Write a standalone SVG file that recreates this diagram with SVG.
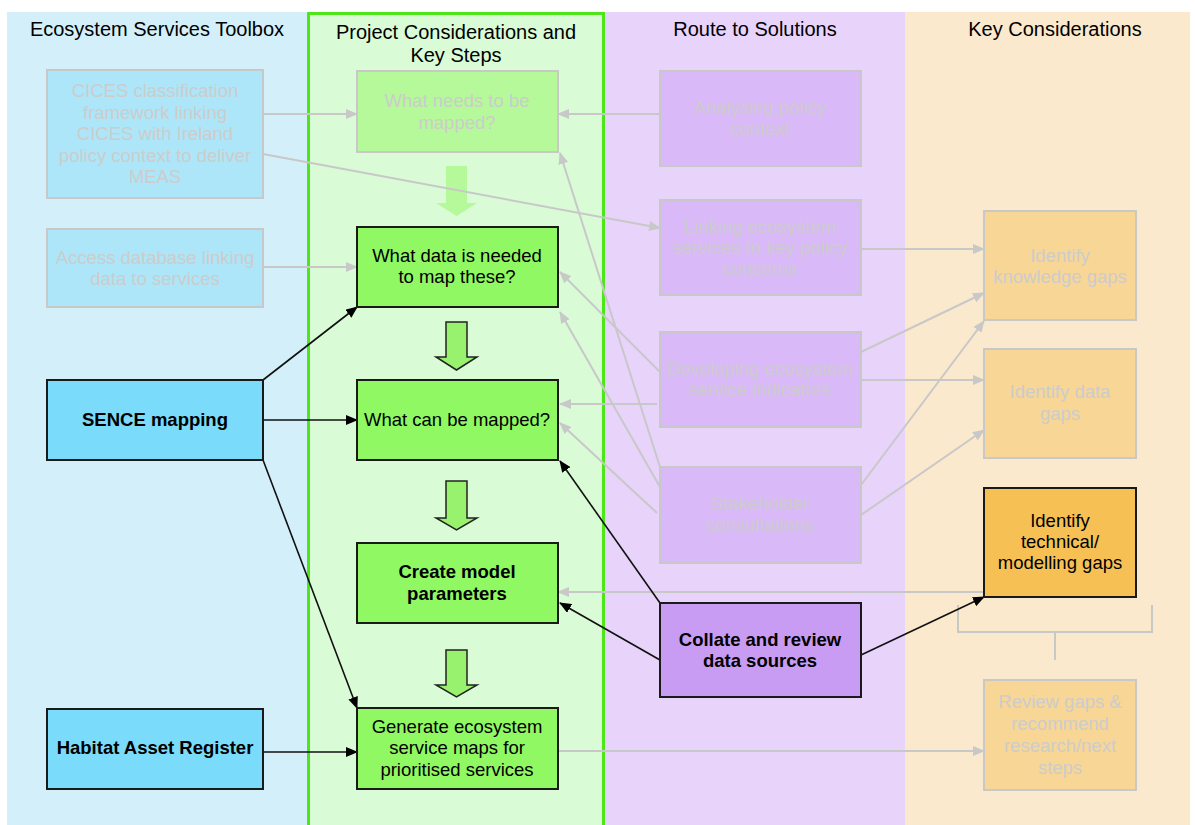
<svg xmlns="http://www.w3.org/2000/svg" width="1195" height="825" viewBox="0 0 1195 825">
<style>
text{font-family:"Liberation Sans",Arial,sans-serif;text-anchor:middle;font-size:18.5px;fill:#000}
.title{font-size:20px}
.faded{fill:#cccccc}
.b{font-weight:bold}
.fbox{stroke:#c8c8c8;stroke-width:2}
.abox{stroke:#1a1a1a;stroke-width:2}
.gc{stroke:#c8c8c8;stroke-width:2;fill:none;marker-end:url(#ga)}
.bc{stroke:#111;stroke-width:1.6;fill:none;marker-end:url(#ba)}
.blk{fill:#98f26e;stroke:#222;stroke-width:1.5}
</style>
<defs>
<marker id="ga" markerUnits="userSpaceOnUse" markerWidth="12" markerHeight="10" refX="11" refY="5" orient="auto"><path d="M0,0 L12,5 L0,10 z" fill="#c8c8c8"/></marker>
<marker id="ba" markerUnits="userSpaceOnUse" markerWidth="12" markerHeight="10" refX="11" refY="5" orient="auto"><path d="M0,0 L12,5 L0,10 z" fill="#000"/></marker>
</defs>
<g id="panels">
<rect x="7" y="12" width="300" height="813" fill="#d3f0fa"/>
<rect x="307" y="12" width="298" height="813" fill="#d9fcd6"/>
<rect x="605" y="12" width="300" height="813" fill="#e8d3fa"/>
<rect x="905" y="12" width="285" height="813" fill="#fae9cc"/>
<rect x="308.5" y="13.5" width="295" height="820" fill="none" stroke="#4de619" stroke-width="3"/>
<text class="title" x="157" y="36">Ecosystem Services Toolbox</text>
<text class="title" x="456" y="39">Project Considerations and</text>
<text class="title" x="456" y="62">Key Steps</text>
<text class="title" x="755" y="36">Route to Solutions</text>
<text class="title" x="1055" y="36">Key Considerations</text>
</g>
<g id="block-arrows">
<path d="M446,166 H467 V203 H477 L456.5,216 L436,203 H446 Z" fill="#b5f99a"/>
<path class="blk" d="M446,322 H467 V357 H477 L456.5,370 L436,357 H446 Z"/>
<path class="blk" d="M446,481 H467 V518 H477 L456.5,530 L436,518 H446 Z"/>
<path class="blk" d="M446,650 H467 V685 H477 L456.5,697 L436,685 H446 Z"/>
</g>
<g id="connectors">
<path class="gc" d="M263,114 L357,114"/>
<path class="gc" d="M263,154 L660,228"/>
<path class="gc" d="M263,267 L357,267"/>
<path class="gc" d="M660,114 L558,114"/>
<path class="gc" d="M660,467 L560,153"/>
<path class="gc" d="M660,372 L560,272"/>
<path class="gc" d="M660,487 L560,312"/>
<path class="gc" d="M657,404 L560,404"/>
<path class="gc" d="M657,513 L560,423"/>
<path class="gc" d="M861,249 L984,249"/>
<path class="gc" d="M861,352 L984,293"/>
<path class="gc" d="M861,485 L984,321"/>
<path class="gc" d="M861,380 L984,380"/>
<path class="gc" d="M861,515 L984,430"/>
<path class="gc" d="M984,592 L558,592"/>
<path class="gc" d="M558,751 L984,751"/>
<path d="M958,605 V632 H1152 V605 M1055,632 V660" stroke="#c8c8c8" stroke-width="2" fill="none"/>
<path class="bc" d="M263,380 L357,307"/>
<path class="bc" d="M263,420 L357,420"/>
<path class="bc" d="M263,460 L357,708"/>
<path class="bc" d="M263,752 L357,752"/>
<path class="bc" d="M660,603 L560,461"/>
<path class="bc" d="M660,660 L560,603"/>
<path class="bc" d="M861,655 L984,597"/>
</g>
<g id="cices">
<rect class="fbox" x="47" y="70" width="216" height="128" fill="#ade6f8"/>
<text class="faded" x="155" y="97">CICES classification</text>
<text class="faded" x="155" y="119">framework linking</text>
<text class="faded" x="155" y="140">CICES with Ireland</text>
<text class="faded" x="155" y="162">policy context to deliver</text>
<text class="faded" x="155" y="183">MEAS</text>
</g>
<g id="access-db">
<rect class="fbox" x="47" y="229" width="216" height="78" fill="#ade6f8"/>
<text class="faded" x="155" y="264">Access database linking</text>
<text class="faded" x="155" y="285">data to services</text>
</g>
<g id="sence">
<rect class="abox" x="47" y="380" width="216" height="80" fill="#7adcfa"/>
<text class="b" x="155" y="426">SENCE mapping</text>
</g>
<g id="habitat">
<rect class="abox" x="47" y="709" width="216" height="80" fill="#7adcfa"/>
<text class="b" x="155" y="754">Habitat Asset Register</text>
</g>
<g id="what-needs">
<rect class="fbox" x="357" y="71" width="201" height="81" fill="#b5f99a"/>
<text class="faded" x="457" y="107">What needs to be</text>
<text class="faded" x="457" y="129">mapped?</text>
</g>
<g id="what-data">
<rect class="abox" x="357" y="227" width="201" height="80" fill="#90f862"/>
<text x="457" y="262">What data is needed</text>
<text x="457" y="283">to map these?</text>
</g>
<g id="what-can">
<rect class="abox" x="357" y="380" width="201" height="80" fill="#90f862"/>
<text x="457" y="426">What can be mapped?</text>
</g>
<g id="create-model">
<rect class="abox" x="357" y="543" width="201" height="80" fill="#90f862"/>
<text class="b" x="457" y="578">Create model</text>
<text class="b" x="457" y="600">parameters</text>
</g>
<g id="generate">
<rect class="abox" x="357" y="708" width="201" height="81" fill="#90f862"/>
<text x="457" y="733">Generate ecosystem</text>
<text x="457" y="754">service maps for</text>
<text x="457" y="776">prioritised services</text>
</g>
<g id="analysing">
<rect class="fbox" x="660" y="71" width="201" height="95" fill="#d9b9f7"/>
<text class="faded" x="760" y="114">Analysing policy</text>
<text class="faded" x="760" y="135">context</text>
</g>
<g id="linking">
<rect class="fbox" x="660" y="200" width="201" height="95" fill="#d9b9f7"/>
<text class="faded" x="760" y="233">Linking ecosystem</text>
<text class="faded" x="760" y="254">services to key policy</text>
<text class="faded" x="760" y="275">concerns</text>
</g>
<g id="developing">
<rect class="fbox" x="660" y="332" width="201" height="95" fill="#d9b9f7"/>
<text class="faded" x="760" y="375">Developing ecosystem</text>
<text class="faded" x="760" y="396">service indicators</text>
</g>
<g id="stakeholder">
<rect class="fbox" x="660" y="467" width="201" height="96" fill="#d9b9f7"/>
<text class="faded" x="760" y="510">Stakeholder</text>
<text class="faded" x="760" y="531">consultations</text>
</g>
<g id="collate">
<rect class="abox" x="660" y="603" width="201" height="94" fill="#c99cf4"/>
<text class="b" x="760" y="646">Collate and review</text>
<text class="b" x="760" y="667">data sources</text>
</g>
<g id="knowledge-gaps">
<rect class="fbox" x="984" y="211" width="152" height="109" fill="#f8d696"/>
<text class="faded" x="1060" y="262">Identify</text>
<text class="faded" x="1060" y="283">knowledge gaps</text>
</g>
<g id="data-gaps">
<rect class="fbox" x="984" y="349" width="152" height="109" fill="#f8d696"/>
<text class="faded" x="1060" y="398">Identify data</text>
<text class="faded" x="1060" y="420">gaps</text>
</g>
<g id="technical-gaps">
<rect class="abox" x="984" y="488" width="152" height="109" fill="#f6c055"/>
<text x="1060" y="527">Identify</text>
<text x="1060" y="548">technical/</text>
<text x="1060" y="569">modelling gaps</text>
</g>
<g id="review-gaps">
<rect class="fbox" x="984" y="680" width="152" height="110" fill="#f8d696"/>
<text class="faded" x="1060" y="708">Review gaps &amp;</text>
<text class="faded" x="1060" y="730">recommend</text>
<text class="faded" x="1060" y="752">research/next</text>
<text class="faded" x="1060" y="774">steps</text>
</g>
</svg>
